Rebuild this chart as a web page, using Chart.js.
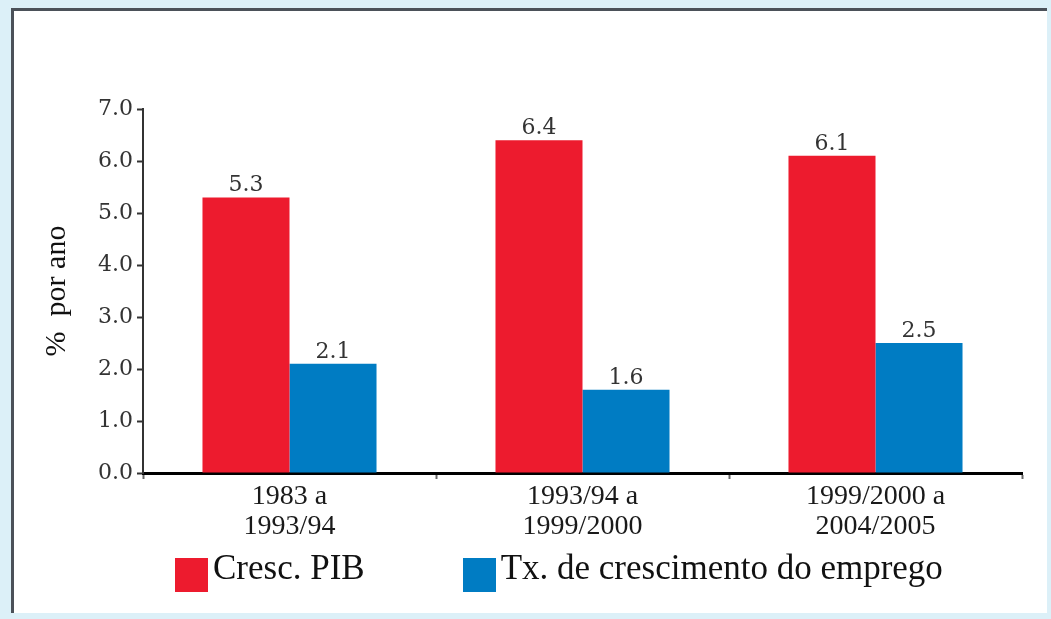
<!DOCTYPE html>
<html>
<head>
<meta charset="utf-8">
<script src="https://cdn.jsdelivr.net/npm/chart.js@4.4.1/dist/chart.umd.min.js"></script>
<style>
  html, body { margin: 0; padding: 0; width: 1051px; height: 619px; overflow: hidden; background: #dcf0f8; }
  #frame { position: absolute; left: 11px; top: 8px; width: 1033px; height: 602px; background: #fff;
           border-top: 3px solid #4b5159; border-left: 3px solid #4b5159; }
  #wrap { position: absolute; left: 0; top: 0; width: 1051px; height: 619px; }
  #legend { position: absolute; left: 175px; top: 550px; display: flex; gap: 98px;
            font-family: "Liberation Serif", serif; font-size: 35px; line-height: 35px; color: #111; }
  .item { display: flex; align-items: flex-start; }
  .box { width: 33px; height: 34px; margin-top: 8px; margin-right: 5px; }
</style>
</head>
<body>
<div id="frame"></div>
<div id="wrap"><canvas id="myChart" width="1051" height="619"></canvas></div>
<div id="legend"></div>
<script>
  // Chart data
  var periods = [['1983 a', '1993/94'], ['1993/94 a', '1999/2000'], ['1999/2000 a', '2004/2005']];
  var seriesNames = ['Cresc. PIB', 'Tx. de crescimento do emprego'];
  var gdpGrowth = [5.3, 6.4, 6.1];
  var employmentGrowth = [2.1, 1.6, 2.5];
  var seriesColors = ['#ed1b2e', '#007cc3'];
  var yTicks = [0, 1, 2, 3, 4, 5, 6, 7];

  // Value labels above each bar
  var valueLabels = {
    id: 'valueLabels',
    afterDatasetsDraw: function (chart) {
      var ctx = chart.ctx;
      ctx.save();
      ctx.font = '22px "DejaVu Serif"';
      ctx.fillStyle = '#333';
      ctx.textAlign = 'center';
      ctx.textBaseline = 'alphabetic';
      chart.data.datasets.forEach(function (ds, i) {
        chart.getDatasetMeta(i).data.forEach(function (bar, j) {
          ctx.fillText(ds.data[j].toFixed(1), bar.x, bar.y - 6);
        });
      });
      ctx.restore();
    }
  };

  var ctx = document.getElementById('myChart').getContext('2d');
  var chart = new Chart(ctx, {
    type: 'bar',
    data: {
      labels: periods,
      datasets: [
        { label: seriesNames[0], data: gdpGrowth, backgroundColor: seriesColors[0] },
        { label: seriesNames[1], data: employmentGrowth, backgroundColor: seriesColors[1] }
      ]
    },
    options: {
      responsive: false,
      animation: false,
      datasets: { bar: { categoryPercentage: 0.594, barPercentage: 1.0 } },
      layout: { padding: { left: 35, top: 109, right: 29, bottom: 66 } },
      plugins: { legend: { display: false }, tooltip: { enabled: false } },
      scales: {
        x: {
          afterFit: function (scale) { scale.height = 80; },
          grid: { drawOnChartArea: false, tickLength: 6, tickColor: '#666', tickWidth: 2 },
          border: { color: '#000', width: 3 },
          ticks: { padding: 3, color: '#1a1a1a', font: { family: 'Liberation Serif', size: 28, lineHeight: 1.07 }, maxRotation: 0 }
        },
        y: {
          min: 0, max: 7,
          afterFit: function (scale) { scale.width = 108; },
          afterBuildTicks: function (scale) { scale.ticks = yTicks.map(function (v) { return { value: v }; }); },
          grid: { drawOnChartArea: false, tickLength: 6, tickColor: '#333', tickWidth: 2 },
          border: { color: '#333', width: 2 },
          ticks: {
            padding: 4, color: '#333', font: { family: 'DejaVu Serif', size: 22 },
            callback: function (v) { return Number(v).toFixed(1); }
          },
          title: { display: true, text: '%  por ano', color: '#111', font: { family: 'Liberation Serif', size: 30 } }
        }
      }
    },
    plugins: [valueLabels]
  });

  // Legend built from the series
  var legend = document.getElementById('legend');
  seriesNames.forEach(function (name, i) {
    var item = document.createElement('div');
    item.className = 'item';
    var box = document.createElement('div');
    box.className = 'box';
    box.style.background = seriesColors[i];
    var txt = document.createElement('span');
    txt.textContent = name;
    item.appendChild(box);
    item.appendChild(txt);
    legend.appendChild(item);
  });
</script>
</body>
</html>
